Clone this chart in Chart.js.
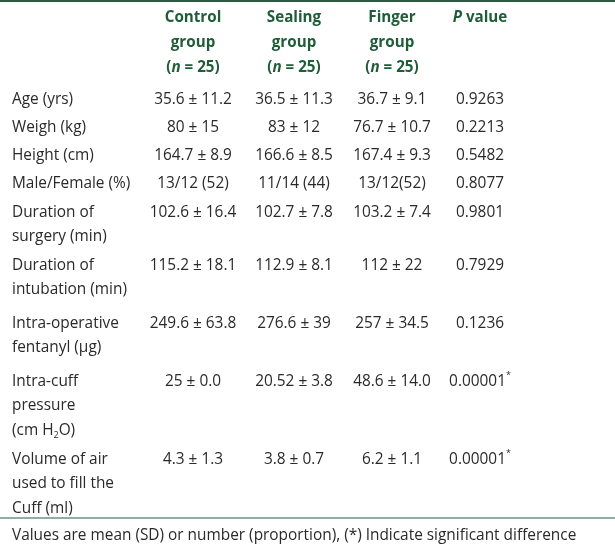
<!DOCTYPE html>
<html lang="en">
<head>
    <meta charset="UTF-8">
    <title>Patient characteristics</title>
    <style>
        body {
            margin: 0;
            background: #ffffff;
        }
        #tableChart {
            display: block;
        }
    </style>
</head>
<body>
    <canvas id="tableChart" width="615" height="547"></canvas>

    <script src="https://cdn.jsdelivr.net/npm/chart.js"></script>
    <script>
        // table contents
        // header lines per column, {i} marks italic text
        const headers = [
            [],
            ['Control', 'group', '({n} = 25)'],
            ['Sealing', 'group', '({n} = 25)'],
            ['Finger', 'group', '({n} = 25)'],
            ['{P} value']
        ];
        const rowLabels = [
            ['Age (yrs)'],
            ['Weigh (kg)'],
            ['Height (cm)'],
            ['Male/Female (%)'],
            ['Duration of', 'surgery (min)'],
            ['Duration of', 'intubation (min)'],
            ['Intra-operative', 'fentanyl (µg)'],
            ['Intra-cuff', 'pressure', '(cm H_2O)'],
            ['Volume of air', 'used to fill the', 'Cuff (ml)']
        ];
        const controlValues = ['35.6 ± 11.2', '80 ± 15', '164.7 ± 8.9', '13/12 (52)', '102.6 ± 16.4', '115.2 ± 18.1', '249.6 ± 63.8', '25 ± 0.0', '4.3 ± 1.3'];
        const sealingValues = ['36.5 ± 11.3', '83 ± 12', '166.6 ± 8.5', '11/14 (44)', '102.7 ± 7.8', '112.9 ± 8.1', '276.6 ± 39', '20.52 ± 3.8', '3.8 ± 0.7'];
        const fingerValues = ['36.7 ± 9.1', '76.7 ± 10.7', '167.4 ± 9.3', '13/12(52)', '103.2 ± 7.4', '112 ± 22', '257 ± 34.5', '48.6 ± 14.0', '6.2 ± 1.1'];
        const pValues = ['0.9263', '0.2213', '0.5482', '0.8077', '0.9801', '0.7929', '0.1236', '0.00001^*', '0.00001^*'];
        const footnote = 'Values are mean (SD) or number (proportion), (*) Indicate significant difference';

        // layout (in chart units, same as pixels)
        const colX = [12, 193, 294, 392, 480];
        const headerTop = 18;
        const rowTops = [99.5, 127.5, 155.5, 183.5, 212.5, 265.5, 323.5, 381.5, 459.5];
        const lineStep = 24.6;
        const ruleTop = 1;
        const ruleBottom = 518;
        const footY = 536;

        const bodyFont = '15.4px "Open Sans"';
        const headFont = 'bold 15.2px "Open Sans"';
        const bodyColor = '#2a2a2a';
        const headColor = '#1f5c38';
        const ruleColor = '#2b5a40';

        // one anchor point per cell
        const cellText = [];
        const anchors = [];
        headers.forEach((lines, c) => {
            if (lines.length) {
                anchors.push({ x: colX[c], y: headerTop });
                cellText.push({ lines: lines, head: true, align: 'center' });
            }
        });
        const valueCols = [controlValues, sealingValues, fingerValues, pValues];
        rowLabels.forEach((lines, r) => {
            anchors.push({ x: colX[0], y: rowTops[r] });
            cellText.push({ lines: lines, head: false, align: 'left' });
            valueCols.forEach((vals, c) => {
                anchors.push({ x: colX[c + 1], y: rowTops[r] });
                cellText.push({ lines: [vals[r]], head: false, align: 'center' });
            });
        });
        anchors.push({ x: colX[0], y: footY });
        cellText.push({ lines: [footnote], head: false, align: 'left' });

        // split a line into runs: {x} italic, _x subscript, ^x superscript
        function parseRuns(line) {
            const runs = [];
            let buf = '';
            for (let i = 0; i < line.length; i++) {
                const ch = line[i];
                if (ch === '{') {
                    if (buf) runs.push({ t: buf, k: 'n' });
                    buf = '';
                    const end = line.indexOf('}', i);
                    runs.push({ t: line.slice(i + 1, end), k: 'i' });
                    i = end;
                } else if (ch === '_' || ch === '^') {
                    if (buf) runs.push({ t: buf, k: 'n' });
                    buf = '';
                    runs.push({ t: line[i + 1], k: ch === '_' ? 'sub' : 'sup' });
                    i++;
                } else {
                    buf += ch;
                }
            }
            if (buf) runs.push({ t: buf, k: 'n' });
            return runs;
        }

        function runFont(base, kind) {
            if (kind === 'i') return 'italic ' + base;
            if (kind === 'sub' || kind === 'sup') return base.replace(/[\d.]+px/, '9px');
            return base;
        }

        function drawLine(ctx, text, x, y, base, align) {
            const runs = parseRuns(text);
            let width = 0;
            runs.forEach(r => {
                ctx.font = runFont(base, r.k);
                r.w = ctx.measureText(r.t).width;
                width += r.w;
            });
            let cx = align === 'center' ? x - width / 2 : x;
            runs.forEach(r => {
                ctx.font = runFont(base, r.k);
                let dy = 0;
                if (r.k === 'sub') dy = 5;
                if (r.k === 'sup') dy = -6;
                ctx.fillText(r.t, cx, y + dy);
                cx += r.w;
            });
        }

        const tablePlugin = {
            id: 'tableText',
            beforeDraw(chart) {
                const ctx = chart.ctx;
                ctx.save();
                ctx.fillStyle = '#ffffff';
                ctx.fillRect(0, 0, chart.width, chart.height);
                ctx.restore();
            },
            afterDatasetsDraw(chart) {
                const ctx = chart.ctx;
                const xs = chart.scales.x;
                const ys = chart.scales.y;
                const meta = chart.getDatasetMeta(0);
                ctx.save();
                ctx.textBaseline = 'middle';
                ctx.textAlign = 'left';
                meta.data.forEach((pt, i) => {
                    const cell = cellText[i];
                    ctx.fillStyle = cell.head ? headColor : bodyColor;
                    const base = cell.head ? headFont : bodyFont;
                    cell.lines.forEach((line, k) => {
                        const y = ys.getPixelForValue(anchors[i].y + k * lineStep);
                        drawLine(ctx, line, pt.x, y, base, cell.align);
                    });
                });
                // rules
                ctx.strokeStyle = ruleColor;
                ctx.lineWidth = 2;
                ctx.beginPath();
                ctx.moveTo(xs.getPixelForValue(0), ys.getPixelForValue(ruleTop));
                ctx.lineTo(xs.getPixelForValue(615), ys.getPixelForValue(ruleTop));
                ctx.stroke();
                ctx.lineWidth = 1.2;
                ctx.beginPath();
                ctx.moveTo(xs.getPixelForValue(0), ys.getPixelForValue(ruleBottom));
                ctx.lineTo(xs.getPixelForValue(615), ys.getPixelForValue(ruleBottom));
                ctx.stroke();
                ctx.restore();
            }
        };

        new Chart(document.getElementById('tableChart'), {
            type: 'scatter',
            data: {
                datasets: [{
                    data: anchors,
                    pointRadius: 0,
                    pointHoverRadius: 0
                }]
            },
            options: {
                responsive: false,
                animation: false,
                events: [],
                layout: { padding: 0 },
                plugins: {
                    legend: { display: false },
                    tooltip: { enabled: false }
                },
                scales: {
                    x: { type: 'linear', min: 0, max: 615, display: false },
                    y: { type: 'linear', min: 0, max: 547, reverse: true, display: false }
                }
            },
            plugins: [tablePlugin]
        });
    </script>
</body>
</html>
